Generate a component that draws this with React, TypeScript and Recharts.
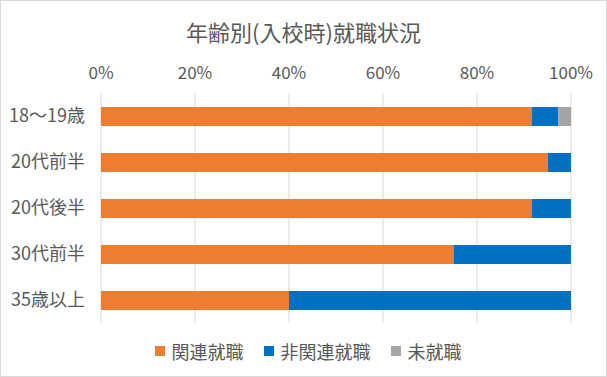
import { Bar, BarChart, CartesianGrid, Legend, XAxis, YAxis } from "recharts"

const CATEGORIES = ["18～19歳", "20代前半", "20代後半", "30代前半", "35歳以上"]
const RELATED = [0.916, 0.951, 0.917, 0.75, 0.4]
const UNRELATED = [0.057, 0.049, 0.083, 0.25, 0.6]
const NONE = [0.027, 0, 0, 0, 0]
const X_TICKS = [0, 0.2, 0.4, 0.6, 0.8, 1]

const SERIES = [
  { key: "related", label: "関連就職", color: "#ED7D31" },
  { key: "unrelated", label: "非関連就職", color: "#0070C0" },
  { key: "none", label: "未就職", color: "#A5A5A5" },
]

const FONT = '"Noto Sans CJK JP", "Noto Sans", sans-serif'
const TEXT = "#595959"

const data = CATEGORIES.map((name, i) => ({
  name,
  related: RELATED[i],
  unrelated: UNRELATED[i],
  none: NONE[i],
}))

function LegendContent() {
  return (
    <div
      style={{
        display: "flex",
        justifyContent: "center",
        gap: 20,
        fontFamily: FONT,
        fontSize: 18,
        lineHeight: "22px",
        height: 22,
        color: TEXT,
      }}
    >
      {SERIES.map((s) => (
        <div key={s.key} style={{ display: "flex", alignItems: "center", gap: 7 }}>
          <span style={{ display: "inline-block", width: 10, height: 10, background: s.color }} />
          <span>{s.label}</span>
        </div>
      ))}
    </div>
  )
}

export default function App() {
  return (
    <div
      style={{
        position: "absolute",
        left: 0,
        top: 0,
        width: 607,
        height: 377,
        boxSizing: "border-box",
        border: "1px solid #d9d9d9",
        background: "#fff",
        fontFamily: FONT,
      }}
    >
      <div
        style={{
          position: "absolute",
          top: 15,
          left: 0,
          width: 605,
          textAlign: "center",
          fontSize: 22,
          color: TEXT,
          lineHeight: "30px",
        }}
      >
        年齢別(入校時)就職状況
      </div>
      <BarChart
        width={605}
        height={375}
        data={data}
        layout="vertical"
        barSize={19}
        margin={{ top: 47, right: 35, bottom: 31, left: 0 }}
        style={{ position: "absolute", left: 0, top: 0 }}
      >
        <CartesianGrid horizontal={false} stroke="#d9d9d9" />
        <XAxis
          type="number"
          orientation="top"
          domain={[0, 1]}
          ticks={X_TICKS}
          tickFormatter={(v: number) => `${Math.round(v * 100)}%`}
          axisLine={false}
          tickLine={false}
          tickSize={0}
          tickMargin={14}
          height={45}
          tick={{ fontSize: 17, fill: TEXT, fontFamily: FONT }}
          interval={0}
        />
        <YAxis
          type="category"
          dataKey="name"
          width={100}
          axisLine={false}
          tickLine={false}
          tickSize={0}
          tickMargin={16}
          tick={{ fontSize: 18, fill: TEXT, fontFamily: FONT }}
        />
        {SERIES.map((s) => (
          <Bar key={s.key} dataKey={s.key} name={s.label} stackId="a" fill={s.color} isAnimationActive={false} />
        ))}
        <Legend verticalAlign="bottom" content={LegendContent} wrapperStyle={{ bottom: 14, left: 22 }} />
      </BarChart>
    </div>
  )
}
